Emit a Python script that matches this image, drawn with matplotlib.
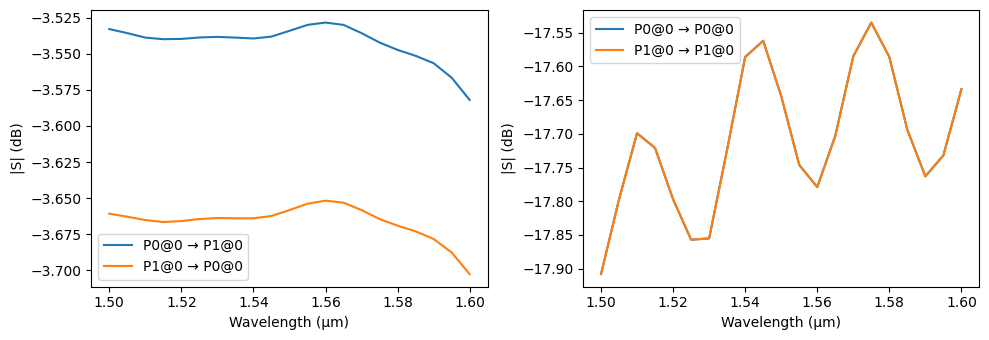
import numpy as np
import matplotlib
matplotlib.use("Agg")
import matplotlib.pyplot as plt

wavelength = [1.500, 1.505, 1.510, 1.515, 1.520, 1.525, 1.530, 1.535, 1.540, 1.545,
              1.550, 1.555, 1.560, 1.565, 1.570, 1.575, 1.580, 1.585, 1.590, 1.595, 1.600]

s21 = [-3.5330, -3.5358, -3.5389, -3.5400, -3.5398, -3.5388, -3.5384, -3.5389, -3.5395, -3.5382,
       -3.5342, -3.5301, -3.5285, -3.5301, -3.5358, -3.5423, -3.5474, -3.5515, -3.5566, -3.5666, -3.5820]
s12 = [-3.6607, -3.6628, -3.6651, -3.6665, -3.6658, -3.6644, -3.6637, -3.6639, -3.6639, -3.6623,
       -3.6582, -3.6538, -3.6517, -3.6531, -3.6582, -3.6644, -3.6690, -3.6729, -3.6782, -3.6875, -3.7025]

s11 = [-17.908, -17.797, -17.699, -17.721, -17.797, -17.857, -17.855, -17.723, -17.586, -17.562,
       -17.644, -17.746, -17.779, -17.703, -17.585, -17.535, -17.586, -17.694, -17.763, -17.732, -17.634]
s22 = list(s11)

left_labels = ["P0@0 \u2192 P1@0", "P1@0 \u2192 P0@0"]
right_labels = ["P0@0 \u2192 P0@0", "P1@0 \u2192 P1@0"]

fig = plt.figure(figsize=(9.89, 3.4), dpi=100)
ax1 = fig.add_axes([0.0923, 0.1568, 0.4008, 0.8138])
ax2 = fig.add_axes([0.5895, 0.1568, 0.4008, 0.8138])

ax1.plot(wavelength, s21, label=left_labels[0])
ax1.plot(wavelength, s12, label=left_labels[1])
ax1.set_xlabel("Wavelength (\u00b5m)")
ax1.set_ylabel("|S| (dB)")
ax1.legend(loc="lower left")

ax2.plot(wavelength, s11, label=right_labels[0])
ax2.plot(wavelength, s22, label=right_labels[1])
ax2.set_xlabel("Wavelength (\u00b5m)")
ax2.set_ylabel("|S| (dB)")
ax2.legend(loc="upper left")

fig.savefig("out.png", dpi=100)
